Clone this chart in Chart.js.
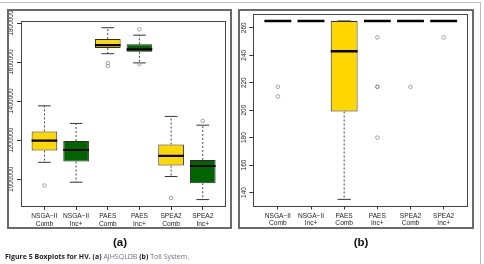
<!DOCTYPE html>
<html><head><meta charset="utf-8">
<script src="https://cdn.jsdelivr.net/npm/chart.js@4/dist/chart.umd.min.js"></script>
<style>
html,body{margin:0;padding:0;background:#fff;width:484px;height:264px;overflow:hidden;position:relative;font-family:"Liberation Sans",Arial,sans-serif}
.fig{position:absolute;left:-4px;top:2px;width:484px;height:280px;border-top:1px solid #bbb;border-right:1px solid #bbb}
.frame{position:absolute;border:2px solid #6a6a6a;box-sizing:border-box}
canvas{position:absolute}
.plab{position:absolute;font-weight:bold;font-size:11.5px;line-height:12px;top:236px;transform:translateX(-50%);color:#111}
.cap{position:absolute;left:5px;top:252px;font-family:"Open Sans",sans-serif;font-size:7px;line-height:9px;white-space:nowrap;color:#6a7080}
.cap b{color:#222}
</style></head>
<body>
<div class="fig"></div>
<canvas id="ca" width="224" height="219" style="left:7px;top:9px"></canvas>
<canvas id="cb" width="235" height="219" style="left:238px;top:9px"></canvas>
<div class="frame" style="left:7px;top:9px;width:225px;height:220px"></div>
<div class="frame" style="left:238px;top:9px;width:236px;height:220px"></div>
<div class="plab" style="left:120px">(a)</div>
<div class="plab" style="left:361px">(b)</div>
<div class="cap"><b>Figure 5 Boxplots for HV.</b> <b>(a)</b> AJHSQLDB <b>(b)</b> Toll System.</div>
<script>
// categories (two-line labels)
const catLine1 = ['NSGA\u2212II','NSGA\u2212II','PAES','PAES','SPEA2','SPEA2'];
const catLine2 = ['Comb','Inc+','Comb','Inc+','Comb','Inc+'];
const boxColors = ['#FFD700','#006400','#FFD700','#006400','#FFD700','#006400'];

// panel (a) AJHSQLDB
const aLow  = [1087000, 985000, 1643000, 1596000, 1014000, 896000];
const aQ1   = [1147000, 1091000, 1672000, 1653000, 1070000, 980000];
const aMed  = [1198000, 1150000, 1687000, 1665000, 1120000, 1068000];
const aQ3   = [1245000, 1196000, 1718000, 1691000, 1178000, 1099000];
const aHigh = [1376000, 1286000, 1776000, 1738000, 1322000, 1277000];
const aOut  = [[968000], [], [1595000, 1580000], [1768000, 1591000], [904000], [1299000]];
const aTicks = [1000000, 1200000, 1400000, 1600000, 1800000];

// panel (b) Toll System
const bLow  = [265, 265, 135, 265, 265, 265];
const bQ1   = [265, 265, 199, 265, 265, 265];
const bMed  = [265, 265, 243, 265, 265, 265];
const bQ3   = [265, 265, 265, 265, 265, 265];
const bHigh = [265, 265, 265, 265, 265, 265];
const bOut  = [[217, 210], [], [], [253, 217, 217, 180], [217], [253]];
const bTicks = [140, 160, 180, 200, 220, 240, 260];

function makeDatasets(low, q1, med, q3, high, outl, medWidth){
  const wh = [], caps = [], meds = [], pts = [];
  for (let i = 0; i < low.length; i++){
    const x = i + 1;
    wh.push({x, y:q3[i]}, {x, y:high[i]}, {x, y:null}, {x, y:q1[i]}, {x, y:low[i]}, {x, y:null});
    caps.push({x:x-0.2, y:high[i]}, {x:x+0.2, y:high[i]}, {x, y:null},
              {x:x-0.2, y:low[i]}, {x:x+0.2, y:low[i]}, {x, y:null});
    meds.push({x:x-0.405, y:med[i]}, {x:x+0.405, y:med[i]}, {x, y:null});
    outl[i].forEach(v => pts.push({x, y:v}));
  }
  return [
    {type:'bar', data:q1.map((v,i)=>({x:i+1, y:[v, q3[i]]})), backgroundColor:boxColors,
     borderColor:'#2a2a2a', borderWidth:1, borderSkipped:false, barPercentage:0.81, categoryPercentage:1, order:5},
    {type:'line', data:wh, borderColor:'#444', borderWidth:1, borderDash:[2,2], pointRadius:0, spanGaps:false, fill:false, order:4},
    {type:'line', data:caps, borderColor:'#333', borderWidth:1, pointRadius:0, spanGaps:false, fill:false, order:3},
    {type:'line', data:meds, borderColor:'#000', borderWidth:medWidth, pointRadius:0, spanGaps:false, fill:false, order:1},
    {type:'scatter', data:pts, pointStyle:'circle', pointRadius:1.8, borderColor:'#8a8a8a', borderWidth:0.8,
     backgroundColor:'rgba(0,0,0,0)', showLine:false, order:0}
  ];
}

const ylabPlugin = {
  id:'ylab',
  afterDraw(chart, args, opts){
    const ys = chart.scales.y, ctx = chart.ctx, ca = chart.chartArea;
    ctx.save();
    ctx.strokeStyle = '#444'; ctx.lineWidth = 1;
    ctx.strokeRect(Math.round(ca.left)+0.5, Math.round(ca.top)+0.5, Math.round(ca.right-ca.left)-1, Math.round(ca.bottom-ca.top)-1);
    ctx.font = '6.5px "Liberation Sans"';
    ctx.fillStyle = '#222';
    ctx.textAlign = 'center'; ctx.textBaseline = 'middle';
    opts.ticks.forEach(v => {
      const y = ys.getPixelForValue(v);
      ctx.save();
      ctx.translate(ca.left - opts.offset, y);
      ctx.rotate(-Math.PI/2);
      ctx.fillText(String(v), 0, 0);
      ctx.restore();
    });
    ctx.restore();
  }
};

function makeChart(id, ds, ymin, ymax, ticks, yWidth, padTop, padRight, xHeight, labOffset){
  return new Chart(document.getElementById(id), {
    type:'bar',
    data:{datasets:ds},
    plugins:[ylabPlugin],
    options:{
      responsive:false, animation:false, devicePixelRatio:1, events:[],
      layout:{padding:{top:padTop, right:padRight, bottom:0, left:0}},
      plugins:{legend:{display:false}, tooltip:{enabled:false}, ylab:{ticks:ticks, offset:labOffset}},
      scales:{
        x:{type:'linear', min:0.26, max:6.74, offset:false,
           afterBuildTicks:s => { s.ticks = catLine1.map((c,i)=>({value:i+1})); },
           afterFit:s => { s.height = xHeight; },
           ticks:{callback:(v,i)=>[catLine1[i], catLine2[i]], font:{family:'Liberation Sans', size:6.6, lineHeight:1.1},
                  color:'#222', padding:3, maxRotation:0, minRotation:0, autoSkip:false},
           grid:{display:true, offset:false, drawOnChartArea:false, drawTicks:true, tickLength:3, color:'#333'},
           border:{display:false}},
        y:{type:'linear', min:ymin, max:ymax,
           afterBuildTicks:s => { s.ticks = ticks.map(v=>({value:v})); },
           afterFit:s => { s.width = yWidth; },
           ticks:{display:false},
           grid:{display:true, drawOnChartArea:false, drawTicks:true, tickLength:4, color:'#333'},
           border:{display:false}}
      }
    }
  });
}

makeChart('ca', makeDatasets(aLow,aQ1,aMed,aQ3,aHigh,aOut,2.2), 858000, 1810500, aTicks, 14, 12, 2, 21, 10);
makeChart('cb', makeDatasets(bLow,bQ1,bMed,bQ3,bHigh,bOut,2.5), 129.8, 270.2, bTicks, 15.3, 2.6, 1.3, 21.5, 9);
</script>
</body></html>
